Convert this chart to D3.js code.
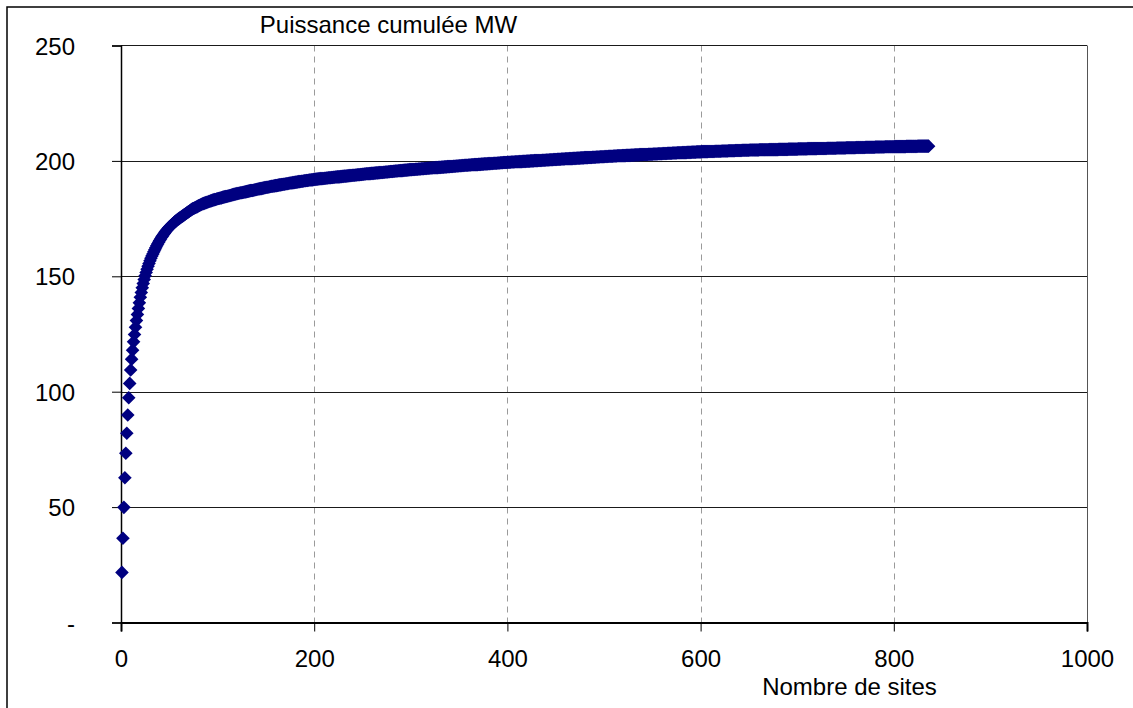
<!DOCTYPE html>
<html><head><meta charset="utf-8">
<script src="https://cdn.jsdelivr.net/npm/d3@7"></script>
<style>body{margin:0;background:#fff}svg{display:block}text{font-family:"Liberation Sans",Arial,sans-serif;fill:#000}</style>
</head><body><div id="chart"></div>
<script>
const title = "Puissance cumulée MW";
const xTitle = "Nombre de sites";
const xTicks = [0, 200, 400, 600, 800, 1000];
const yTicks = [0, 50, 100, 150, 200, 250];
const yTickLabels = ["-", "50", "100", "150", "200", "250"];
const xGrid = [200, 400, 600, 800];
const yGrid = [50, 100, 150, 200];
// cumulative power (MW) for sites 1..836, sorted by decreasing size
const cumulMW = [
21.7,36.5,49.9,62.7,73.3,82.0,89.9,97.4,103.6,109.4,
114.1,118.0,121.6,124.8,127.9,130.8,133.5,136.1,138.5,140.9,
143.0,145.0,146.9,148.6,150.2,151.7,153.1,154.4,155.6,156.7,
157.8,158.8,159.7,160.6,161.5,162.4,163.2,164.0,164.8,165.5,
166.2,166.9,167.5,168.1,168.7,169.3,169.8,170.3,170.8,171.3,
171.7,172.1,172.5,172.9,173.3,173.7,174.0,174.4,174.7,175.0,
175.3,175.6,175.9,176.2,176.5,176.8,177.1,177.4,177.7,178.0,
178.3,178.6,178.9,179.2,179.4,179.6,179.8,180.0,180.2,180.5,
180.7,180.9,181.1,181.3,181.5,181.6,181.8,181.9,182.1,182.2,
182.4,182.5,182.7,182.8,183.0,183.1,183.2,183.3,183.5,183.6,
183.7,183.8,183.9,184.0,184.2,184.3,184.4,184.5,184.6,184.7,
184.8,184.9,185.0,185.1,185.3,185.4,185.5,185.6,185.7,185.8,
185.9,186.0,186.1,186.2,186.2,186.3,186.4,186.5,186.6,186.7,
186.8,186.9,187.0,187.1,187.2,187.2,187.3,187.4,187.5,187.6,
187.7,187.8,187.9,188.0,188.0,188.1,188.2,188.3,188.4,188.5,
188.6,188.6,188.7,188.8,188.9,189.0,189.0,189.1,189.2,189.3,
189.3,189.4,189.5,189.6,189.6,189.7,189.8,189.9,189.9,190.0,
190.1,190.1,190.2,190.3,190.4,190.4,190.5,190.6,190.6,190.7,
190.8,190.8,190.9,191.0,191.0,191.1,191.2,191.2,191.3,191.4,
191.4,191.5,191.5,191.6,191.7,191.7,191.8,191.8,191.9,192.0,
192.0,192.1,192.1,192.2,192.2,192.3,192.3,192.3,192.4,192.4,
192.5,192.5,192.6,192.6,192.7,192.7,192.7,192.8,192.8,192.9,
192.9,193.0,193.0,193.1,193.1,193.1,193.2,193.2,193.3,193.3,
193.4,193.4,193.4,193.5,193.5,193.6,193.6,193.7,193.7,193.8,
193.8,193.8,193.9,193.9,194.0,194.0,194.0,194.1,194.1,194.2,
194.2,194.3,194.3,194.4,194.4,194.4,194.5,194.5,194.6,194.6,
194.6,194.7,194.7,194.8,194.8,194.8,194.9,194.9,195.0,195.0,
195.0,195.1,195.1,195.2,195.2,195.2,195.3,195.3,195.4,195.4,
195.4,195.5,195.5,195.6,195.6,195.6,195.7,195.7,195.8,195.8,
195.8,195.9,195.9,196.0,196.0,196.0,196.1,196.1,196.2,196.2,
196.2,196.3,196.3,196.3,196.4,196.4,196.4,196.5,196.5,196.5,
196.6,196.6,196.6,196.7,196.7,196.7,196.8,196.8,196.8,196.9,
196.9,196.9,197.0,197.0,197.0,197.1,197.1,197.1,197.2,197.2,
197.2,197.3,197.3,197.3,197.4,197.4,197.4,197.5,197.5,197.5,
197.6,197.6,197.6,197.7,197.7,197.7,197.8,197.8,197.8,197.9,
197.9,197.9,198.0,198.0,198.0,198.1,198.1,198.1,198.1,198.2,
198.2,198.2,198.3,198.3,198.3,198.4,198.4,198.4,198.4,198.5,
198.5,198.5,198.6,198.6,198.6,198.7,198.7,198.7,198.7,198.8,
198.8,198.8,198.9,198.9,198.9,199.0,199.0,199.0,199.0,199.1,
199.1,199.1,199.2,199.2,199.2,199.3,199.3,199.3,199.3,199.4,
199.4,199.4,199.4,199.5,199.5,199.5,199.5,199.6,199.6,199.6,
199.6,199.7,199.7,199.7,199.7,199.8,199.8,199.8,199.8,199.9,
199.9,199.9,199.9,200.0,200.0,200.0,200.0,200.1,200.1,200.1,
200.1,200.2,200.2,200.2,200.2,200.3,200.3,200.3,200.3,200.4,
200.4,200.4,200.4,200.5,200.5,200.5,200.5,200.6,200.6,200.6,
200.6,200.7,200.7,200.7,200.7,200.8,200.8,200.8,200.8,200.9,
200.9,200.9,200.9,201.0,201.0,201.0,201.0,201.1,201.1,201.1,
201.1,201.2,201.2,201.2,201.2,201.3,201.3,201.3,201.3,201.4,
201.4,201.4,201.4,201.5,201.5,201.5,201.5,201.6,201.6,201.6,
201.6,201.7,201.7,201.7,201.7,201.8,201.8,201.8,201.8,201.8,
201.9,201.9,201.9,201.9,202.0,202.0,202.0,202.0,202.0,202.1,
202.1,202.1,202.1,202.2,202.2,202.2,202.2,202.2,202.3,202.3,
202.3,202.3,202.4,202.4,202.4,202.4,202.4,202.5,202.5,202.5,
202.5,202.6,202.6,202.6,202.6,202.6,202.7,202.7,202.7,202.7,
202.8,202.8,202.8,202.8,202.8,202.9,202.9,202.9,202.9,202.9,
203.0,203.0,203.0,203.0,203.0,203.1,203.1,203.1,203.1,203.1,
203.2,203.2,203.2,203.2,203.2,203.3,203.3,203.3,203.3,203.3,
203.4,203.4,203.4,203.4,203.4,203.5,203.5,203.5,203.5,203.5,
203.6,203.6,203.6,203.6,203.6,203.7,203.7,203.7,203.7,203.7,
203.8,203.8,203.8,203.8,203.8,203.9,203.9,203.9,203.9,203.9,
204.0,204.0,204.0,204.0,204.0,204.0,204.0,204.1,204.1,204.1,
204.1,204.1,204.1,204.1,204.2,204.2,204.2,204.2,204.2,204.2,
204.2,204.3,204.3,204.3,204.3,204.3,204.3,204.3,204.4,204.4,
204.4,204.4,204.4,204.4,204.4,204.5,204.5,204.5,204.5,204.5,
204.5,204.5,204.6,204.6,204.6,204.6,204.6,204.6,204.6,204.6,
204.7,204.7,204.7,204.7,204.7,204.7,204.7,204.7,204.7,204.7,
204.8,204.8,204.8,204.8,204.8,204.8,204.8,204.8,204.8,204.8,
204.9,204.9,204.9,204.9,204.9,204.9,204.9,204.9,204.9,204.9,
205.0,205.0,205.0,205.0,205.0,205.0,205.0,205.0,205.0,205.0,
205.1,205.1,205.1,205.1,205.1,205.1,205.1,205.1,205.1,205.1,
205.2,205.2,205.2,205.2,205.2,205.2,205.2,205.2,205.2,205.2,
205.3,205.3,205.3,205.3,205.3,205.3,205.3,205.3,205.3,205.3,
205.4,205.4,205.4,205.4,205.4,205.4,205.4,205.4,205.4,205.4,
205.5,205.5,205.5,205.5,205.5,205.5,205.5,205.5,205.5,205.5,
205.6,205.6,205.6,205.6,205.6,205.6,205.6,205.6,205.6,205.6,
205.7,205.7,205.7,205.7,205.7,205.7,205.7,205.7,205.7,205.7,
205.8,205.8,205.8,205.8,205.8,205.8,205.8,205.8,205.8,205.8,
205.9,205.9,205.9,205.9,205.9,205.9,205.9,205.9,205.9,205.9,
206.0,206.0,206.0,206.0,206.0,206.0,206.0,206.0,206.0,206.0,
206.1,206.1,206.1,206.1,206.1,206.1,206.1,206.1,206.1,206.1,
206.2,206.2,206.2,206.2,206.2,206.2,206.2,206.2,206.2,206.2,
206.2,206.2,206.3,206.3,206.3,206.3,206.3,206.3,206.3,206.3,
206.3,206.3,206.3,206.3,206.4,206.4,206.4,206.4,206.4,206.4,
206.4,206.4,206.4,206.4,206.4,206.4
];
const siteNumbers = cumulMW.map((d, i) => i + 1);

const W = 1133, H = 708;
const FS = 24;
const svg = d3.select("#chart").append("svg").attr("width", W).attr("height", H);
svg.append("rect").attr("width", W).attr("height", H).attr("fill", "#fff");
// chart area frame (clipped by the picture on right and bottom)
svg.append("rect").attr("x", 7).attr("y", 7).attr("width", 1200).attr("height", 800)
  .attr("fill", "none").attr("stroke", "#000").attr("stroke-width", 1.5);

const x = d3.scaleLinear().domain([0, 1000]).range([121, 1087]);
const y = d3.scaleLinear().domain([0, 250]).range([622.5, 45.5]);

// vertical dashed grid
svg.append("g").selectAll("line").data(xGrid).join("line")
  .attr("x1", d => Math.round(x(d)) + 0.5).attr("x2", d => Math.round(x(d)) + 0.5)
  .attr("y1", y(250)).attr("y2", y(0))
  .attr("stroke", "#9a9a9a").attr("stroke-width", 1).attr("stroke-dasharray", "6,5");
// horizontal grid
svg.append("g").selectAll("line").data(yGrid).join("line")
  .attr("x1", x(0)).attr("x2", x(1000))
  .attr("y1", d => Math.round(y(d)) + 0.5).attr("y2", d => Math.round(y(d)) + 0.5)
  .attr("stroke", "#1a1a1a").attr("stroke-width", 1);
// plot frame top & right
svg.append("line").attr("x1", x(0)).attr("x2", x(1000)).attr("y1", 45.5).attr("y2", 45.5)
  .attr("stroke", "#1a1a1a");
svg.append("line").attr("x1", 1087.5).attr("x2", 1087.5).attr("y1", 45.5).attr("y2", y(0))
  .attr("stroke", "#555");

// axes
const yAxis = d3.axisLeft(y).tickValues(yTicks).tickSize(9).tickPadding(37)
  .tickFormat((d, i) => yTickLabels[i]);
const gy = svg.append("g").attr("transform", `translate(${x(0)},0)`).call(yAxis);
gy.select(".domain").attr("stroke", "#000").attr("stroke-width", 1.5);
gy.selectAll(".tick line").attr("stroke", "#000");
gy.selectAll(".tick text").attr("font-size", FS).attr("font-family", "Liberation Sans, Arial, sans-serif")
  .attr("dy", "0.36em");

const xAxis = d3.axisBottom(x).tickValues(xTicks).tickSize(9).tickPadding(18).tickFormat(d3.format("d"));
const gx = svg.append("g").attr("transform", `translate(0,${y(0)})`).call(xAxis);
gx.select(".domain").attr("stroke", "#000").attr("stroke-width", 2);
gx.selectAll(".tick line").attr("stroke", "#000");
gx.selectAll(".tick text").attr("font-size", FS).attr("font-family", "Liberation Sans, Arial, sans-serif");

// markers
const diamond = "M0,-6.8L6.8,0L0,6.8L-6.8,0Z";
svg.append("g").selectAll("path").data(cumulMW).join("path")
  .attr("d", diamond)
  .attr("transform", (d, i) => `translate(${x(siteNumbers[i])},${y(d)})`)
  .attr("fill", "#000080");

// texts
svg.append("text").attr("x", 388.5).attr("y", 32.5).attr("text-anchor", "middle")
  .attr("font-size", FS).text(title);
svg.append("text").attr("x", 849.5).attr("y", 694.5).attr("text-anchor", "middle")
  .attr("font-size", FS).text(xTitle);
</script></body></html>
